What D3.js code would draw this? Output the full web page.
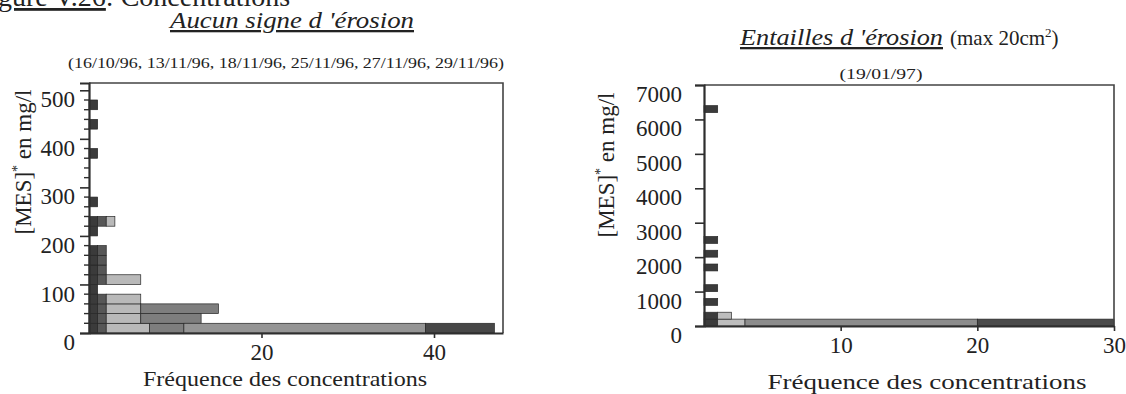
<!DOCTYPE html>
<html>
<head>
<meta charset="utf-8">
<script src="https://cdn.jsdelivr.net/npm/d3@7"></script>
<style>
  body { margin: 0; background: #fff; }
  svg { display: block; font-family: "Liberation Serif", serif; }
</style>
</head>
<body>
<svg id="chart" width="1126" height="394"></svg>
<script>
// Left chart: no erosion, bins of 20 mg/l, one series per sampling date
const binsLeft = d3.range(0, 500, 20);
const datesLeft = ["16/10/96", "13/11/96", "18/11/96", "25/11/96", "27/11/96", "29/11/96"];
const d16_10 = [1,1,1,1,1,1,1,1,1,0,1,1,0,1,0,0,0,0,1,0,0,1,0,1,0];
const d13_11 = [1,1,1,1,0,1,1,1,1,0,0,1,0,0,0,0,0,0,0,0,0,0,0,0,0];
const d18_11 = [5,4,4,4,0,4,0,0,0,0,0,1,0,0,0,0,0,0,0,0,0,0,0,0,0];
const d25_11 = [4,7,9,0,0,0,0,0,0,0,0,0,0,0,0,0,0,0,0,0,0,0,0,0,0];
const d27_11 = [28,0,0,0,0,0,0,0,0,0,0,0,0,0,0,0,0,0,0,0,0,0,0,0,0];
const d29_11 = [8,0,0,0,0,0,0,0,0,0,0,0,0,0,0,0,0,0,0,0,0,0,0,0,0];
const shadesLeft = ["#3b3b3b", "#575757", "#b9b9b9", "#7e7e7e", "#959595", "#474747"];
const yTicksLeft = [0, 100, 200, 300, 400, 500];
const xTicksLeft = [20, 40];

// Right chart: erosion cuts (19/01/97), bins of 200 mg/l
const binsRight = d3.range(0, 7000, 200);
const partsRight = ["a", "b", "c", "d"];
const partA = [1,1,0,1,0,1,0,0,1,0,1,0,1,0,0,0,0,0,0,0,0,0,0,0,0,0,0,0,0,0,0,1,0,0,0];
const partB = [2,1,0,0,0,0,0,0,0,0,0,0,0,0,0,0,0,0,0,0,0,0,0,0,0,0,0,0,0,0,0,0,0,0,0];
const partC = [17,0,0,0,0,0,0,0,0,0,0,0,0,0,0,0,0,0,0,0,0,0,0,0,0,0,0,0,0,0,0,0,0,0,0];
const partD = [10,0,0,0,0,0,0,0,0,0,0,0,0,0,0,0,0,0,0,0,0,0,0,0,0,0,0,0,0,0,0,0,0,0,0];
const shadesRight = ["#3b3b3b", "#bdbdbd", "#8c8c8c", "#4a4a4a"];
const yTicksRight = [0, 1000, 2000, 3000, 4000, 5000, 6000, 7000];
const xTicksRight = [10, 20, 30];

const svg = d3.select("#chart");
const ink = "#2e2e2e";

// cropped figure caption at the very top
svg.append("text")
  .attr("x", -2).attr("y", 6)
  .attr("font-size", 28).attr("fill", "#222")
  .html('<tspan text-decoration="underline">gure V.26</tspan>: Concentrations');

function drawPanel(opts) {
  const { x, y, bins, step, keys, series, shades, yTicks, yMinor, xTicks, labelGap } = opts;
  const g = svg.append("g");

  const rows = bins.map((b, i) => {
    const row = { bin: b };
    keys.forEach((k, j) => row[k] = series[j][i]);
    return row;
  });
  const stacked = d3.stack().keys(keys)(rows);

  g.selectAll("g.layer")
    .data(stacked)
    .join("g")
    .attr("fill", (d, i) => shades[i])
    .selectAll("rect")
    .data(d => d.filter(s => s[1] > s[0]))
    .join("rect")
    .attr("x", d => x(d[0]))
    .attr("width", d => x(d[1]) - x(d[0]))
    .attr("y", d => y(d.data.bin + step))
    .attr("height", d => y(d.data.bin) - y(d.data.bin + step))
    .attr("stroke", "#262626")
    .attr("stroke-width", 0.7);

  const [x0, x1] = x.range();
  const [y0, y1] = y.range();

  // frame: top and right edges
  g.append("path")
    .attr("d", `M${x0},${y1}H${x1}V${y0}`)
    .attr("fill", "none").attr("stroke", "#444").attr("stroke-width", 1.6);

  // y axis
  const ya = g.append("g").attr("transform", `translate(${x0},0)`)
    .call(d3.axisLeft(y).tickValues(yTicks).tickSize(9).tickFormat(d3.format("d")));
  if (yMinor) {
    ya.selectAll("line.minor")
      .data(yMinor.filter(v => !yTicks.includes(v)))
      .join("line").attr("class", "minor")
      .attr("x1", -5).attr("x2", 0)
      .attr("y1", d => y(d)).attr("y2", d => y(d))
      .attr("stroke", ink).attr("stroke-width", 1.4);
  }
  ya.select(".domain").attr("stroke", ink).attr("stroke-width", 2.2);
  ya.selectAll(".tick line").attr("stroke", ink).attr("stroke-width", 1.6);
  ya.selectAll(".tick text")
    .attr("font-family", "Liberation Serif").attr("font-size", 23)
    .attr("fill", "#222").attr("x", -labelGap).attr("dy", "0.72em");

  // x axis
  const xa = g.append("g").attr("transform", `translate(0,${y0})`)
    .call(d3.axisBottom(x).tickValues(xTicks).tickSize(5).tickSizeOuter(0));
  xa.select(".domain").attr("stroke", ink).attr("stroke-width", 2.2);
  xa.selectAll(".tick line").attr("stroke", ink).attr("stroke-width", 1.6);
  xa.selectAll(".tick text")
    .attr("font-family", "Liberation Serif").attr("font-size", 23)
    .attr("fill", "#222").attr("y", 11);
  return g;
}

// ---- left panel ----
const xL = d3.scaleLinear([0, 48], [89, 503]);
const yL = d3.scaleLinear([0, 515], [333, 83]);
drawPanel({
  x: xL, y: yL, bins: binsLeft, step: 20, keys: datesLeft,
  series: [d16_10, d13_11, d18_11, d25_11, d27_11, d29_11],
  shades: shadesLeft, yTicks: yTicksLeft, yMinor: d3.range(0, 501, 20), xTicks: xTicksLeft,
  labelGap: 14
});

// ---- right panel ----
const xR = d3.scaleLinear([0, 30], [704, 1114]);
const yR = d3.scaleLinear([0, 7000], [326, 85]);
drawPanel({
  x: xR, y: yR, bins: binsRight, step: 200, keys: partsRight,
  series: [partA, partB, partC, partD],
  shades: shadesRight, yTicks: yTicksRight, yMinor: null, xTicks: xTicksRight,
  labelGap: 22
});

// titles
svg.append("text")
  .attr("x", 292).attr("y", 28).attr("text-anchor", "middle")
  .attr("font-size", 23).attr("font-style", "italic").attr("fill", "#222")
  .attr("text-decoration", "underline")
  .attr("textLength", 244).attr("lengthAdjust", "spacingAndGlyphs")
  .text("Aucun signe d 'érosion");

svg.append("text")
  .attr("x", 286).attr("y", 68).attr("text-anchor", "middle")
  .attr("font-size", 15).attr("fill", "#222")
  .attr("textLength", 436).attr("lengthAdjust", "spacingAndGlyphs")
  .text("(" + datesLeft.join(", ") + ")");

svg.append("text")
  .attr("x", 740).attr("y", 45)
  .attr("font-size", 23).attr("font-style", "italic").attr("fill", "#222")
  .attr("text-decoration", "underline")
  .attr("textLength", 203).attr("lengthAdjust", "spacingAndGlyphs")
  .text("Entailles d 'érosion");
const tR = svg.append("text")
  .attr("x", 950).attr("y", 45)
  .attr("font-size", 21).attr("fill", "#222");
tR.append("tspan").text("(max 20cm");
tR.append("tspan").attr("font-size", 13).attr("dy", -8).text("2");
tR.append("tspan").attr("dy", 8).text(")");

svg.append("text")
  .attr("x", 881).attr("y", 79).attr("text-anchor", "middle")
  .attr("font-size", 15).attr("fill", "#222")
  .attr("textLength", 83).attr("lengthAdjust", "spacingAndGlyphs")
  .text("(19/01/97)");

// y axis titles
function yTitle(cx, cy) {
  const t = svg.append("text")
    .attr("transform", `translate(${cx},${cy}) rotate(-90)`)
    .attr("text-anchor", "middle").attr("font-size", 23).attr("fill", "#222");
  t.append("tspan").text("[MES]");
  t.append("tspan").attr("font-size", 14).attr("dy", -9).text("*");
  t.append("tspan").attr("dy", 9).text(" en mg/l");
}
yTitle(31, 162);
yTitle(614, 165);

// x axis titles
svg.append("text")
  .attr("x", 285).attr("y", 386).attr("text-anchor", "middle")
  .attr("font-size", 21).attr("fill", "#222")
  .attr("textLength", 284).attr("lengthAdjust", "spacingAndGlyphs")
  .text("Fréquence des concentrations");
svg.append("text")
  .attr("x", 927).attr("y", 389).attr("text-anchor", "middle")
  .attr("font-size", 22).attr("fill", "#222")
  .attr("textLength", 319).attr("lengthAdjust", "spacingAndGlyphs")
  .text("Fréquence des concentrations");
</script>
</body>
</html>
